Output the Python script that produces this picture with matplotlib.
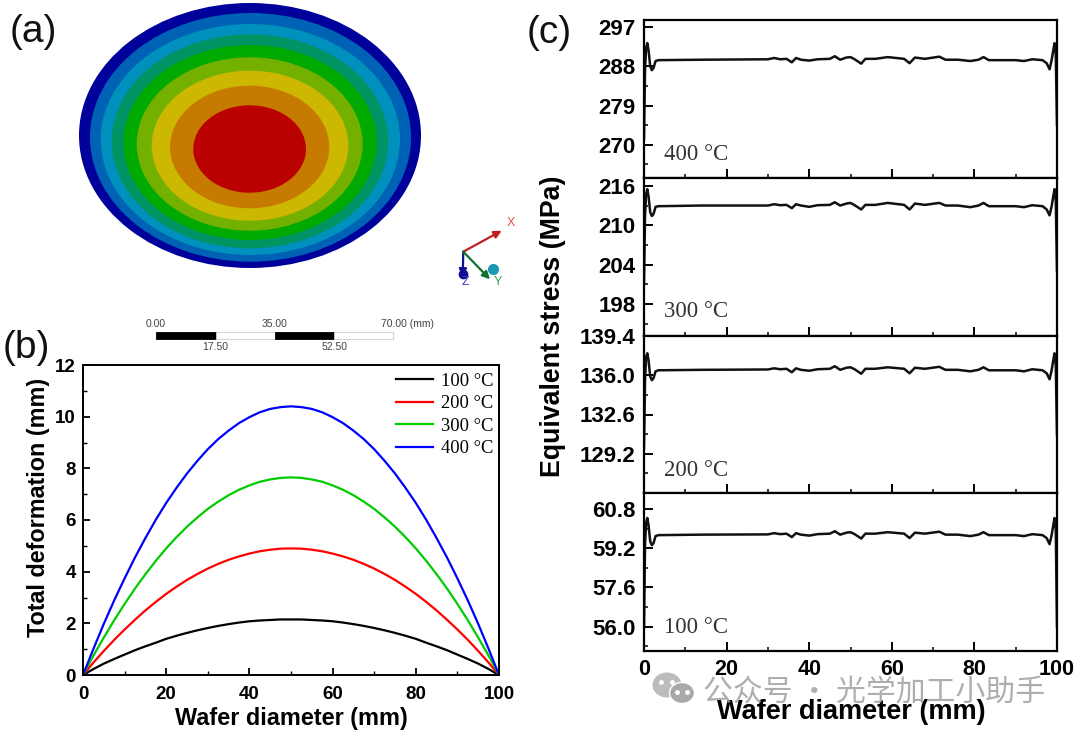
import matplotlib
matplotlib.use("Agg")
import matplotlib.pyplot as plt
from matplotlib.patches import Ellipse, Rectangle, FancyArrowPatch

W, H = 1080, 733
plt.rcParams['font.family'] = ['Liberation Sans', 'DejaVu Sans']

# ---- panel (b)
diam_b = [i * 2.5 for i in range(41)]
def_100 = [0, .23, .44, .62, .79, .96, 1.11, 1.25, 1.40, 1.52, 1.63, 1.73, 1.82, 1.90, 1.97, 2.03, 2.08, 2.11, 2.13, 2.15, 2.15,
           2.15, 2.13, 2.11, 2.08, 2.03, 1.97, 1.90, 1.82, 1.73, 1.63, 1.52, 1.40, 1.25, 1.11, .96, .79, .62, .44, .23, 0]
def_200 = [0, .48, .93, 1.36, 1.76, 2.14, 2.50, 2.83, 3.14, 3.42, 3.68, 3.91, 4.12, 4.30, 4.46, 4.59, 4.70, 4.79, 4.85, 4.89, 4.9,
           4.89, 4.85, 4.79, 4.70, 4.59, 4.46, 4.30, 4.12, 3.91, 3.68, 3.42, 3.14, 2.83, 2.50, 2.14, 1.76, 1.36, .93, .48, 0]
def_300 = [0, .75, 1.45, 2.12, 2.75, 3.35, 3.90, 4.42, 4.90, 5.34, 5.74, 6.10, 6.43, 6.71, 6.96, 7.17, 7.34, 7.48, 7.57, 7.63, 7.65,
           7.63, 7.57, 7.48, 7.34, 7.17, 6.96, 6.71, 6.43, 6.10, 5.74, 5.34, 4.90, 4.42, 3.90, 3.35, 2.75, 2.12, 1.45, .75, 0]
def_400 = [0, 1.01, 1.98, 2.89, 3.74, 4.55, 5.30, 6.01, 6.66, 7.25, 7.80, 8.29, 8.74, 9.13, 9.46, 9.75, 9.98, 10.17, 10.30, 10.37, 10.4,
           10.37, 10.30, 10.17, 9.98, 9.75, 9.46, 9.13, 8.74, 8.29, 7.80, 7.25, 6.66, 6.01, 5.30, 4.55, 3.74, 2.89, 1.98, 1.01, 0]
legend_labels = ['100 °C', '200 °C', '300 °C', '400 °C']

# ---- panel (c)
diam_c = [0, .25, .5, .8, 1.1, 1.5, 1.9, 2.3, 2.8, 3.5, 14, 30, 31.5, 33, 34.5, 35.8, 36.8, 38, 40, 42, 45, 46.2, 47.5,
          49, 50, 51, 52.6, 53.6, 56, 59, 63, 64.3, 65.6, 68, 71.5, 73, 76, 79, 81, 82.2, 83.5, 90, 92, 94, 96.5, 97.5,
          98.2, 98.7, 99.1, 99.4, 99.7, 100]
stress_400 = [271.5, 287.1, 292.1, 293.3, 291.7, 288.0, 287.1, 287.6, 289.2, 289.4, 289.5, 289.6, 289.9, 289.6, 289.7,
              288.9, 289.9, 289.5, 289.3, 289.6, 289.7, 290.3, 289.5, 290.0, 290.1, 289.6, 288.6, 289.7, 289.7, 290.1,
              289.7, 288.7, 290.0, 289.7, 290.2, 289.5, 289.5, 289.2, 289.5, 290.1, 289.4, 289.4, 289.2, 289.6, 289.4,
              288.7, 287.3, 289.4, 291.7, 293.3, 290.5, 274.5]
stress_300 = [201.0, 211.4, 214.7, 215.5, 214.4, 212.0, 211.4, 211.7, 212.8, 212.9, 213.0, 213.0, 213.2, 213.05, 213.1,
              212.6, 213.2, 213.0, 212.8, 213.05, 213.1, 213.5, 213.0, 213.3, 213.4, 213.05, 212.4, 213.1, 213.1, 213.4,
              213.1, 212.4, 213.3, 213.1, 213.4, 213.0, 213.0, 212.75, 213.0, 213.4, 212.9, 212.9, 212.75, 213.05, 212.9,
              212.4, 211.5, 212.9, 214.4, 215.5, 213.7, 203.0]
stress_200 = [129.7, 135.57, 137.47, 137.9, 137.3, 135.9, 135.57, 135.74, 136.34, 136.43, 136.47, 136.5, 136.6, 136.52,
              136.56, 136.26, 136.6, 136.47, 136.39, 136.52, 136.56, 136.78, 136.47, 136.65, 136.69, 136.52, 136.13,
              136.56, 136.56, 136.69, 136.56, 136.17, 136.65, 136.56, 136.73, 136.47, 136.47, 136.34, 136.47, 136.69,
              136.43, 136.43, 136.34, 136.52, 136.43, 136.17, 135.65, 136.43, 137.3, 137.9, 136.86, 130.8]
stress_100 = [55.96, 59.32, 60.22, 60.43, 60.14, 59.48, 59.32, 59.40, 59.69, 59.73, 59.75, 59.76, 59.81, 59.77, 59.79,
              59.65, 59.81, 59.75, 59.71, 59.77, 59.79, 59.89, 59.75, 59.83, 59.85, 59.77, 59.59, 59.79, 59.79, 59.85,
              59.79, 59.61, 59.83, 59.79, 59.87, 59.75, 59.75, 59.69, 59.75, 59.85, 59.73, 59.73, 59.69, 59.77, 59.73,
              59.61, 59.36, 59.73, 60.14, 60.43, 59.94, 56.0]
panel_names = ['400 °C', '300 °C', '200 °C', '100 °C']
panel_ticks = [[270, 279, 288, 297], [198, 204, 210, 216], [129.2, 132.6, 136.0, 139.4], [56.0, 57.6, 59.2, 60.8]]
panel_ticklabels = [['270', '279', '288', '297'], ['198', '204', '210', '216'],
                    ['129.2', '132.6', '136.0', '139.4'], ['56.0', '57.6', '59.2', '60.8']]
panel_limits = [(262.4, 298.6), (193.1, 217.2), (125.8, 139.4), (55.0, 61.45)]

# ---- panel (a): contour bands, outer to inner (left, right, top, bottom in pixels)
band_colors = ['#00009a', '#0062b4', '#0090bd', '#009464', '#00aa00', '#74b000', '#ccb800', '#c67a00', '#ba0000']
band_edges = [(79, 421, 3, 268), (90, 411, 13, 261.7), (100.7, 400, 24, 255), (111.7, 388.3, 34.3, 248.3),
              (123.3, 376.7, 45, 240), (136.7, 362.7, 57.3, 230.7), (151.7, 348.3, 70.7, 220.7),
              (170, 329.3, 85.7, 208.3), (193.3, 306, 105.3, 192.7)]

fig = plt.figure(figsize=(W / 100, H / 100), dpi=100)

def axpx(l, t, r, b):
    return fig.add_axes([l / W, 1 - b / H, (r - l) / W, (b - t) / H])

# overlay in pixel coordinates
ov = fig.add_axes([0, 0, 1, 1])
ov.set_xlim(0, W); ov.set_ylim(H, 0); ov.axis('off')
for c, (l, r, t, b) in zip(band_colors, band_edges):
    ov.add_patch(Ellipse(((l + r) / 2, (t + b) / 2), r - l, b - t, fc=c, ec='none'))

for end, col in [((501.7, 230.7), '#c02020'), ((462.7, 276.7), '#101090'), ((490, 279.3), '#107030')]:
    ov.add_patch(FancyArrowPatch((463.3, 251.7), end, arrowstyle='-|>', mutation_scale=11, lw=1.6, color=col,
                                 shrinkA=0, shrinkB=0))
ov.plot([493.3], [268.7], 'o', ms=7, color='#1a9ab0')
ov.plot([462.7], [273.5], 'o', ms=6, color='#101090')
ov.text(510.7, 223, 'X', color='#e05050', fontsize=9, ha='center', va='center')
ov.text(498.3, 281.7, 'Y', color='#30a050', fontsize=9, ha='center', va='center')
ov.text(465.7, 281.7, 'Z', color='#4040c0', fontsize=9, ha='center', va='center')

for l, r, c in [(156, 215.5, 'black'), (215.5, 275, 'white'), (275, 334.3, 'black'), (334.3, 393.3, 'white')]:
    ov.add_patch(Rectangle((l, 331.7), r - l, 7.6, fc=c, ec='#cccccc' if c == 'white' else 'black', lw=0.6))
for x, y, s in [(155.7, 324.3, '0.00'), (275, 324.3, '35.00'), (407.7, 324.3, '70.00 (mm)'),
                (215.7, 346.7, '17.50'), (334.3, 346.7, '52.50')]:
    ov.text(x, y, s, fontsize=7.5, color='#444444', ha='center', va='center')

for x, y, s in [(33, 32, '(a)'), (26, 348, '(b)'), (549, 33, '(c)')]:
    ov.text(x, y, s, fontsize=28, color='#111111', ha='center', va='center')

# panel (b)
ax = axpx(83, 365, 499, 675)
for v, c, lab in zip([def_100, def_200, def_300, def_400], ['black', 'red', '#00cc00', 'blue'], legend_labels):
    ax.plot(diam_b, v, color=c, lw=1.6, label=lab)
ax.set_xlim(0, 100); ax.set_ylim(0, 12)
ax.set_xticks(range(0, 101, 20)); ax.set_yticks(range(0, 13, 2))
ax.set_xticks(range(10, 100, 20), minor=True); ax.set_yticks(range(1, 12, 2), minor=True)
ax.tick_params(which='major', direction='in', length=5, width=1.3, labelsize=13.5)
ax.tick_params(which='minor', direction='in', length=3, width=1.0)
ax.tick_params(axis='x', which='major', pad=8)
ax.tick_params(axis='y', which='major', pad=5)
for t in ax.get_xticklabels() + ax.get_yticklabels():
    t.set_fontweight('bold')
for s in ax.spines.values():
    s.set_linewidth(1.4)
ov.text(291, 718, 'Wafer diameter (mm)', fontsize=16.9, fontweight='bold', ha='center', va='center')
ov.text(39, 507, 'Total deformation (mm)', rotation=90, fontsize=16.8, fontweight='bold', ha='center', va='center')
ax.legend(loc='upper right', frameon=False, prop={'family': 'Liberation Serif', 'size': 13.3},
          handlelength=2.0, handletextpad=0.43, labelspacing=0.3, borderaxespad=0, borderpad=0,
          bbox_to_anchor=(0.9856, 0.975))

# panel (c)
tops = [20, 178, 336, 493]
bots = [178, 336, 493, 651]
series = [stress_400, stress_300, stress_200, stress_100]
name_y = [0.146, 0.158, 0.146, 0.146]
for i in range(4):
    a = axpx(644, tops[i], 1057, bots[i])
    a.plot(diam_c, series[i], color='#111111', lw=1.8)
    a.set_xlim(0, 100); a.set_ylim(*panel_limits[i])
    a.set_yticks(panel_ticks[i]); a.set_yticklabels(panel_ticklabels[i])
    a.set_xticks(range(0, 101, 20)); a.set_xticks(range(10, 100, 20), minor=True)
    mids = [(p + q) / 2 for p, q in zip(panel_ticks[i][:-1], panel_ticks[i][1:])]
    mids = [panel_ticks[i][0] - (panel_ticks[i][1] - panel_ticks[i][0]) / 2] + mids
    a.set_yticks(mids, minor=True)
    a.tick_params(which='major', direction='in', length=6.5, width=1.4, labelsize=16)
    a.tick_params(which='minor', direction='in', length=3, width=1.1)
    a.tick_params(axis='y', which='major', pad=6)
    a.tick_params(axis='x', which='major', pad=6, labelsize=15.5)
    if i < 3:
        a.tick_params(axis='x', which='both', labelbottom=False)
    for t in a.get_xticklabels() + a.get_yticklabels():
        t.set_fontweight('bold')
    for s in a.spines.values():
        s.set_linewidth(1.6)
    a.text(4.8, name_y[i], panel_names[i], transform=a.get_xaxis_transform(), fontsize=16.5,
           family='Liberation Serif', color='#333333', va='center')

ov.text(553, 326, 'Equivalent stress (MPa)', rotation=90, fontsize=19.3, fontweight='bold', ha='center', va='center')
ov.text(851, 712, 'Wafer diameter (mm)', fontsize=19.5, fontweight='bold', ha='center', va='center', zorder=5)

# watermark
top = fig.add_axes([0, 0, 1, 1], facecolor='none')
top.set_xlim(0, W); top.set_ylim(H, 0); top.axis('off')
top.add_patch(Ellipse((667, 685), 29, 25, fc='#b5b5b5', ec='none', alpha=.9))
top.add_patch(Ellipse((682, 693), 25, 21, fc='#a9a9a9', ec='white', lw=1))
for x, y in [(661, 682), (672, 682), (677, 692), (687, 692)]:
    top.plot([x], [y], 'o', ms=2.5, color='white')
top.text(874, 692, '公众号 · 光学加工小助手', family=['Noto Sans CJK SC', 'DejaVu Sans'], fontsize=21.5,
         color='#a0a0a0', alpha=.85, ha='center', va='center')

fig.savefig('out.png', dpi=100)
